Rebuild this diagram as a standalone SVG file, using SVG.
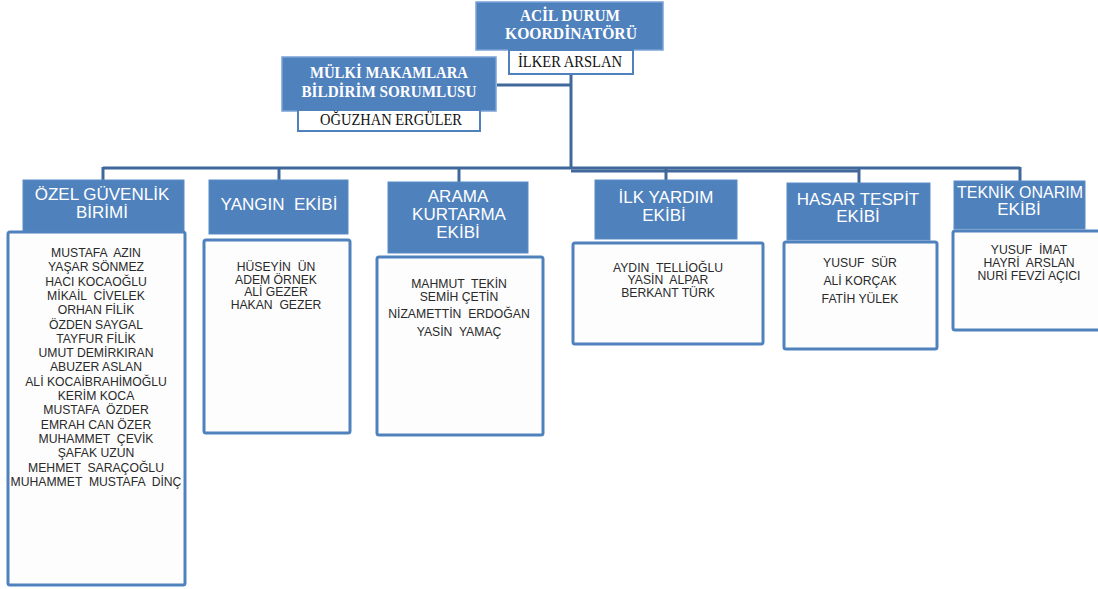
<svg xmlns="http://www.w3.org/2000/svg" width="1098" height="589" viewBox="0 0 1098 589">
<style>
.hdr{fill:#4F81BD;stroke:#5b8cc6;stroke-width:1}
.top{fill:#4F81BD;stroke:#7aa3d6;stroke-width:1.5}
.mem{fill:#fdfdfd;stroke:#4F81BD;stroke-width:3}
.nm{fill:#fff;stroke:#4F81BD;stroke-width:2}
.ht{font-family:"Liberation Sans",Arial,sans-serif;font-size:17px;fill:#fff;text-anchor:middle;white-space:pre}
.st{font-family:"Liberation Serif","Times New Roman",serif;font-size:17.5px;font-weight:bold;fill:#fff;text-anchor:middle}
.sn{font-family:"Liberation Serif","Times New Roman",serif;font-size:16px;fill:#111;text-anchor:middle}
.mt{font-family:"Liberation Sans",Arial,sans-serif;font-size:12.2px;fill:#2a2a2a;text-anchor:middle;white-space:pre}
.ln{stroke:#41689a;stroke-width:3;fill:none}
</style>
<rect width="1098" height="589" fill="#fff"/>
<g id="connectors">
<path class="ln" d="M571 74 V168"/>
<path class="ln" d="M497 85 H571"/>
<path class="ln" d="M103 168 H1020"/>
<path class="ln" d="M571 171 H858"/>
<path class="ln" d="M103 167 V180"/>
<path class="ln" d="M279 167 V180"/>
<path class="ln" d="M459 167 V182"/>
<path class="ln" d="M666 168 V180"/>
<path class="ln" d="M859 168 V183"/>
<path class="ln" d="M1020 167 V181"/>
</g>
<g id="coordinator">
<rect class="top" x="476" y="2" width="187" height="48"/>
<text class="st" x="570" y="21" textLength="100" lengthAdjust="spacingAndGlyphs">ACİL DURUM</text>
<text class="st" x="571" y="39" textLength="132" lengthAdjust="spacingAndGlyphs">KOORDİNATÖRÜ</text>
<rect class="nm" x="509" y="50" width="124" height="24"/>
<text class="sn" x="570" y="67" textLength="104" lengthAdjust="spacingAndGlyphs">İLKER ARSLAN</text>
</g>
<g id="mulki">
<rect class="top" x="282" y="57" width="214" height="54"/>
<text class="st" x="389" y="78" textLength="158" lengthAdjust="spacingAndGlyphs">MÜLKİ MAKAMLARA</text>
<text class="st" x="389" y="97" textLength="175" lengthAdjust="spacingAndGlyphs">BİLDİRİM SORUMLUSU</text>
<rect class="nm" x="298" y="110" width="182" height="21"/>
<text class="sn" x="391" y="125" textLength="142" lengthAdjust="spacingAndGlyphs">OĞUZHAN ERGÜLER</text>
</g>
<g id="ozel-guvenlik">
<rect class="hdr" x="23" y="180" width="161" height="51"/>
<text class="ht" x="102" y="200">ÖZEL GÜVENLİK</text>
<text class="ht" x="102" y="218">BİRİMİ</text>
<rect class="mem" x="8" y="232" width="177" height="353" rx="2"/>
<text class="mt" x="96" y="257">MUSTAFA  AZIN</text>
<text class="mt" x="96" y="271.3">YAŞAR SÖNMEZ</text>
<text class="mt" x="96" y="285.6">HACI KOCAOĞLU</text>
<text class="mt" x="96" y="299.9">MİKAİL  CİVELEK</text>
<text class="mt" x="96" y="314.2">ORHAN FİLİK</text>
<text class="mt" x="96" y="328.5">ÖZDEN SAYGAL</text>
<text class="mt" x="96" y="342.8">TAYFUR FİLİK</text>
<text class="mt" x="96" y="357.1">UMUT DEMİRKIRAN</text>
<text class="mt" x="96" y="371.4">ABUZER ASLAN</text>
<text class="mt" x="96" y="385.7">ALİ KOCAİBRAHİMOĞLU</text>
<text class="mt" x="96" y="400">KERİM KOCA</text>
<text class="mt" x="96" y="414.3">MUSTAFA  ÖZDER</text>
<text class="mt" x="96" y="428.6">EMRAH CAN ÖZER</text>
<text class="mt" x="96" y="442.9">MUHAMMET  ÇEVİK</text>
<text class="mt" x="96" y="457.2">ŞAFAK UZUN</text>
<text class="mt" x="96" y="471.5">MEHMET  SARAÇOĞLU</text>
<text class="mt" x="96" y="485.8">MUHAMMET  MUSTAFA  DİNÇ</text>
</g>
<g id="yangin">
<rect class="hdr" x="209" y="180" width="139" height="54"/>
<text class="ht" x="279" y="210">YANGIN  EKİBİ</text>
<rect class="mem" x="204" y="240" width="146" height="193" rx="2"/>
<text class="mt" x="276" y="271">HÜSEYİN  ÜN</text>
<text class="mt" x="276" y="284">ADEM ÖRNEK</text>
<text class="mt" x="276" y="296">ALİ GEZER</text>
<text class="mt" x="276" y="309">HAKAN  GEZER</text>
</g>
<g id="arama-kurtarma">
<rect class="hdr" x="388" y="182" width="140" height="71"/>
<text class="ht" x="458" y="202">ARAMA</text>
<text class="ht" x="459" y="220">KURTARMA</text>
<text class="ht" x="458" y="238">EKİBİ</text>
<rect class="mem" x="377" y="257" width="166" height="178" rx="2"/>
<text class="mt" x="459" y="288">MAHMUT  TEKİN</text>
<text class="mt" x="459" y="301">SEMİH ÇETİN</text>
<text class="mt" x="459" y="318">NİZAMETTİN  ERDOĞAN</text>
<text class="mt" x="459" y="336">YASİN  YAMAÇ</text>
</g>
<g id="ilk-yardim">
<rect class="hdr" x="595" y="180" width="142" height="59"/>
<text class="ht" x="666" y="203">İLK YARDIM</text>
<text class="ht" x="664" y="221">EKİBİ</text>
<rect class="mem" x="573" y="243" width="190" height="101" rx="2"/>
<text class="mt" x="668" y="272">AYDIN  TELLİOĞLU</text>
<text class="mt" x="668" y="284">YASİN  ALPAR</text>
<text class="mt" x="668" y="297">BERKANT TÜRK</text>
</g>
<g id="hasar-tespit">
<rect class="hdr" x="787" y="183" width="143" height="57"/>
<text class="ht" x="858" y="205">HASAR TESPİT</text>
<text class="ht" x="858" y="222">EKİBİ</text>
<rect class="mem" x="784" y="242" width="153" height="107" rx="2"/>
<text class="mt" x="860" y="267">YUSUF  SÜR</text>
<text class="mt" x="860" y="285">ALİ KORÇAK</text>
<text class="mt" x="860" y="303">FATİH YÜLEK</text>
</g>
<g id="teknik-onarim">
<rect class="hdr" x="954" y="181" width="131" height="48"/>
<text class="ht" x="1020" y="198" textLength="126" lengthAdjust="spacingAndGlyphs">TEKNİK ONARIM</text>
<text class="ht" x="1019" y="215">EKİBİ</text>
<rect class="mem" x="953" y="231" width="150" height="99" rx="2"/>
<text class="mt" x="1029" y="254">YUSUF  İMAT</text>
<text class="mt" x="1029" y="267">HAYRİ  ARSLAN</text>
<text class="mt" x="1029" y="280">NURİ FEVZİ AÇICI</text>
</g>
</svg>
